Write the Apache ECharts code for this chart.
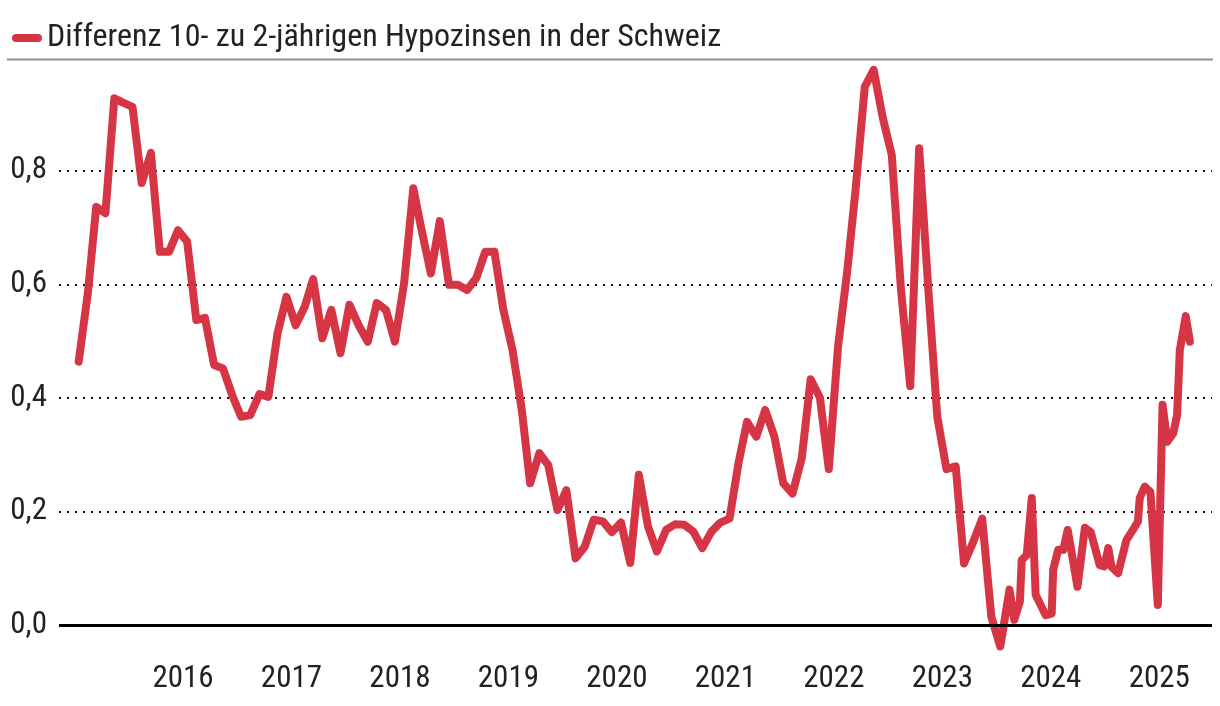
<!DOCTYPE html>
<html>
<head>
<meta charset="utf-8">
<script src="https://cdn.jsdelivr.net/npm/echarts@6/dist/echarts.min.js"></script>
<style>
html,body{margin:0;padding:0;background:#fff;}
#chart{width:1220px;height:706px;}
</style>
</head>
<body>
<div id="chart"></div>
<script>
// ---- data ----
const seriesName = 'Differenz 10- zu 2-jährigen Hypozinsen in der Schweiz';
const monthlyStart = [2015, 1]; // first monthly observation (mid-month)
const monthlyValues = [
  0.464,0.585,0.736,0.725,0.927,0.919,0.912,0.778,0.831,0.657,0.657,0.695,
  0.675,0.537,0.541,0.458,0.452,0.405,0.367,0.370,0.407,0.402,0.514,0.578,
  0.528,0.561,0.609,0.505,0.555,0.479,0.564,0.528,0.499,0.567,0.555,0.499,
  0.602,0.769,0.695,0.619,0.711,0.599,0.599,0.590,0.611,0.657,0.657,0.555,
  0.484,0.379,0.250,0.303,0.282,0.203,0.238,0.118,0.139,0.186,0.183,0.164,
  0.181,0.110,0.265,0.174,0.130,0.168,0.178,0.177,0.165,0.136,0.165,0.181,
  0.188,0.288,0.358,0.332,0.379,0.332,0.250,0.232,0.294,0.433,0.401,0.275,
  0.490,0.623,0.766,0.947,0.977,0.892,0.827,0.590,0.421,0.839,0.590,0.367,
  0.275,0.280,0.109,0.147,0.188,0.015,-0.037,0.063
];
const laterDates = [
  '2023-08-31','2023-09-19','2023-09-25','2023-10-12','2023-10-29','2023-11-11','2023-12-15',
  '2024-01-04','2024-01-09','2024-01-26','2024-02-12','2024-02-27','2024-03-31','2024-04-25',
  '2024-05-15','2024-06-14','2024-06-29','2024-07-13','2024-07-24','2024-08-15','2024-09-12',
  '2024-10-04','2024-10-21','2024-10-27','2024-11-13','2024-12-02','2024-12-27',
  '2025-01-12','2025-01-28','2025-02-17','2025-03-02','2025-03-11','2025-03-31','2025-04-14'
];
const laterValues = [
  0.010,0.042,0.115,0.124,0.224,0.054,0.018,
  0.021,0.098,0.133,0.133,0.168,0.068,0.172,
  0.164,0.106,0.104,0.136,0.103,0.092,0.150,
  0.168,0.183,0.224,0.244,0.235,0.036,
  0.388,0.323,0.338,0.370,0.484,0.544,0.499
];
const yearLabels = [2016,2017,2018,2019,2020,2021,2022,2023,2024,2025];
const yTicks = [0, 0.2, 0.4, 0.6, 0.8];

// ---- helpers ----
function decYear(y, m, d) {
  const s = Date.UTC(y, 0, 1), e = Date.UTC(y + 1, 0, 1);
  return y + (Date.UTC(y, m - 1, d) - s) / (e - s);
}
const points = [];
monthlyValues.forEach((v, i) => {
  const mi = (monthlyStart[1] - 1) + i;
  const y = monthlyStart[0] + Math.floor(mi / 12);
  const m = (mi % 12) + 1;
  points.push([decYear(y, m, 15), v]);
});
laterDates.forEach((ds, i) => {
  const [y, m, d] = ds.split('-').map(Number);
  points.push([decYear(y, m, d), laterValues[i]]);
});

const FONT = "'Roboto Condensed', 'Liberation Sans Narrow', 'DejaVu Sans Condensed', Roboto, sans-serif";
const RED = '#d63545';
const TXT = '#222222';

const chart = echarts.init(document.getElementById('chart'), null, {renderer: 'canvas'});
chart.setOption({
  animation: false,
  backgroundColor: '#ffffff',
  textStyle: {fontFamily: FONT},
  legend: {
    left: 7, top: 17,
    itemWidth: 30, itemHeight: 8, itemGap: 10,
    icon: 'path://M4,0 L26,0 A4,4 0 0 1 26,8 L4,8 A4,4 0 0 1 4,0 Z',
    textStyle: {fontFamily: FONT, fontSize: 32, color: TXT, lineHeight: 32, padding: [0,0,0,0]},
    data: [{name: seriesName, itemStyle: {color: RED}}],
    selectedMode: false
  },
  graphic: [{
    type: 'line', shape: {x1: 7, y1: 59.5, x2: 1213, y2: 59.5},
    style: {stroke: '#8f8f8f', lineWidth: 2}, silent: true
  }],
  grid: {left: 59, right: 8, top: 56.8, bottom: 46.4, containLabel: false},
  xAxis: {
    type: 'value', min: 2014.857, max: 2025.486,
    axisLine: {show: false}, axisTick: {show: false}, splitLine: {show: false},
    axisLabel: {
      customValues: yearLabels, margin: 4,
      fontFamily: FONT, fontSize: 31, color: TXT,
      formatter: v => String(Math.round(v))
    }
  },
  yAxis: {
    type: 'value', min: -0.06, max: 1.0,
    axisLine: {show: false}, axisTick: {show: false}, splitLine: {show: false},
    axisLabel: {
      customValues: yTicks, margin: 12,
      fontFamily: FONT, fontSize: 31, color: TXT,
      formatter: v => v.toFixed(1).replace('.', ',')
    }
  },
  series: [
    {
      name: seriesName, type: 'line', data: points,
      showSymbol: false, symbol: 'none', z: 3, clip: false,
      lineStyle: {color: RED, width: 8, join: 'round', cap: 'round'},
      itemStyle: {color: RED},
      markLine: {
        silent: true, symbol: 'none', z: 1, label: {show: false},
        lineStyle: {color: '#111', width: 2, type: [2, 6]},
        data: yTicks.filter(t => t !== 0).map(t => ({yAxis: t}))
      }
    },
    {
      name: 'zero', type: 'line', data: [], z: 5,
      markLine: {
        silent: true, symbol: 'none', z: 6, label: {show: false},
        lineStyle: {color: '#000', width: 3, type: 'solid'},
        data: [{yAxis: 0}]
      }
    }
  ]
});
</script>
</body>
</html>
